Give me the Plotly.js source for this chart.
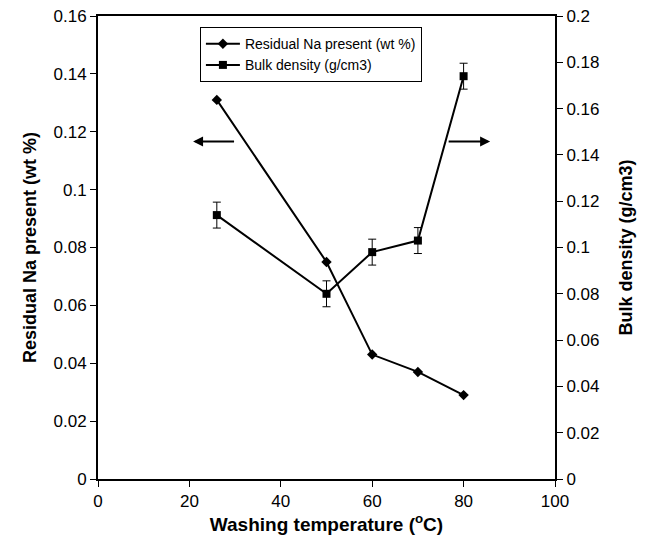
<!DOCTYPE html>
<html><head><meta charset="utf-8">
<script src="https://cdn.plot.ly/plotly-3.0.1.min.js"></script>
<style>html,body{margin:0;padding:0;background:#fff}#chart{width:647px;height:544px}</style>
</head><body><div id="chart"></div>
<script>
const temperature = [26, 50, 60, 70, 80];
const residualNa = [0.131, 0.075, 0.043, 0.037, 0.029];
const bulkDensity = [0.114, 0.080, 0.098, 0.103, 0.174];
const bulkDensityErr = [0.0056, 0.0056, 0.0056, 0.0056, 0.0056];
const seriesNames = ["Residual Na present (wt %)", "Bulk density (g/cm3)"];

const font = "Arial, 'Liberation Sans', sans-serif";
const tickfont = {family: font, size: 17, color: "#000"};
const traces = [
  {x: temperature, y: residualNa, name: seriesNames[0], type: "scatter", mode: "lines+markers",
   line: {color: "#000", width: 2}, marker: {symbol: "diamond", size: 8, color: "#000"}},
  {x: temperature, y: bulkDensity, name: seriesNames[1], type: "scatter", mode: "lines+markers", yaxis: "y2",
   line: {color: "#000", width: 2}, marker: {symbol: "square", size: 8, color: "#000"},
   error_y: {type: "data", array: bulkDensityErr, visible: true, color: "#000", thickness: 1, width: 4}}
];
const layout = {
  width: 647, height: 544,
  margin: {l: 98, r: 92, t: 16, b: 65},
  paper_bgcolor: "#fff", plot_bgcolor: "#fff",
  font: {family: font, size: 16, color: "#000"},
  showlegend: true,
  legend: {x: 0.223, y: 0.976, xanchor: "left", yanchor: "top", bgcolor: "#fff",
    bordercolor: "#000", borderwidth: 1, font: {family: font, size: 14, color: "#000"},
    tracegroupgap: 0, itemwidth: 34},
  xaxis: {range: [0, 100], dtick: 20, tick0: 0, showgrid: false, zeroline: false,
    showline: true, linecolor: "#000", linewidth: 2, mirror: true, tickfont: tickfont,
    ticks: "outside", ticklen: 6, tickcolor: "#000",
    title: {text: "<b>Washing temperature (<sup>o</sup>C)</b>", font: {family: font, size: 19}, standoff: 3}},
  yaxis: {range: [0, 0.16], dtick: 0.02, tick0: 0, showgrid: false, zeroline: false,
    showline: true, linecolor: "#000", linewidth: 2, tickfont: tickfont,
    ticks: "outside", ticklen: 6, tickcolor: "#000",
    title: {text: "<b>Residual Na present (wt %)</b>", font: {family: font, size: 18}, standoff: 12}},
  yaxis2: {range: [0, 0.2], dtick: 0.02, tick0: 0, overlaying: "y", side: "right",
    showgrid: false, zeroline: false, showline: true, linecolor: "#000", linewidth: 2, tickfont: tickfont,
    ticks: "outside", ticklen: 6, tickcolor: "#000",
    title: {text: "<b>Bulk density (g/cm3)</b>", font: {family: font, size: 18}, standoff: 21}},
  annotations: [
    {x: 20.8, y: 0.1166, ax: 30.1, ay: 0.1166, xref: "x", yref: "y", axref: "x", ayref: "y",
     showarrow: true, arrowhead: 2, arrowsize: 1, arrowwidth: 2, arrowcolor: "#000", text: ""},
    {x: 85.8, y: 0.1166, ax: 76.4, ay: 0.1166, xref: "x", yref: "y", axref: "x", ayref: "y",
     showarrow: true, arrowhead: 2, arrowsize: 1, arrowwidth: 2, arrowcolor: "#000", text: ""}
  ]
};
Plotly.newPlot("chart", traces, layout, {displayModeBar: false, staticPlot: true});
</script></body></html>
